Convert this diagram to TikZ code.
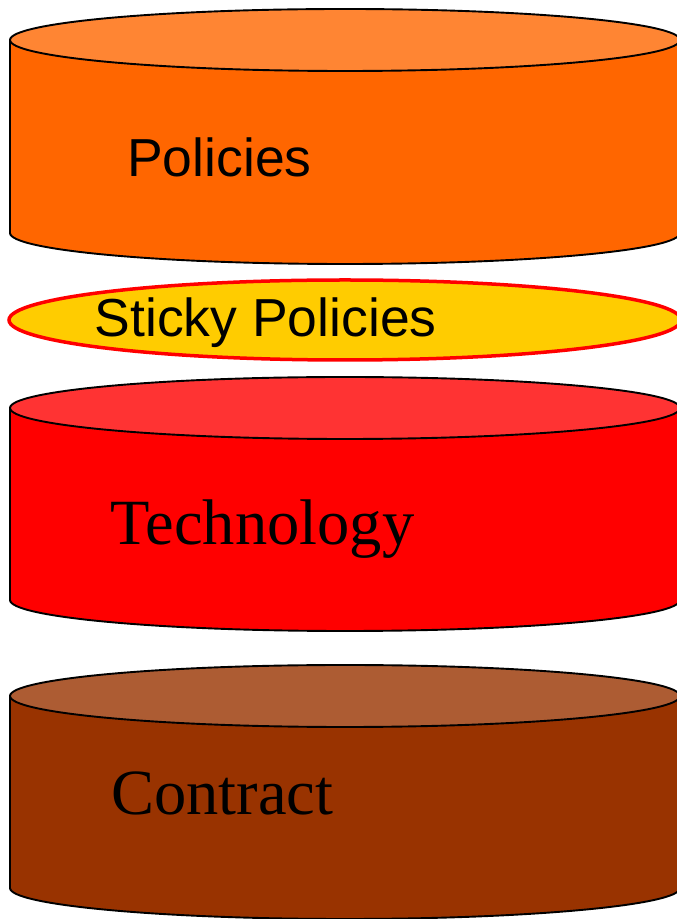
\documentclass[tikz,border=0pt]{standalone}
\usepackage{fontspec}
\setmainfont{Liberation Serif}
\setsansfont{Liberation Sans}
\definecolor{polside}{HTML}{FF6600}
\definecolor{poltop}{HTML}{FF8533}
\definecolor{stickyfill}{HTML}{FFCC00}
\definecolor{techside}{HTML}{FF0000}
\definecolor{techtop}{HTML}{FF3333}
\definecolor{conside}{HTML}{993300}
\definecolor{contop}{HTML}{AD5C33}
\tikzset{
  outline/.style={draw=black, line width=1.9pt},
  sanslabel/.style={font=\fontsize{53.5}{60}\selectfont\sffamily, inner sep=0pt, anchor=base west},
  seriflabel/.style={font=\fontsize{64.5}{72}\selectfont\rmfamily, inner sep=0pt, anchor=base west},
}
\newcommand{\mycyl}[4]{% top Y, bottom Y, side colour, top colour
  \fill[#3] (10,#1) -- (10,#2) arc[start angle=180, end angle=360, x radius=335pt, y radius=31pt] -- (680,#1) -- cycle;
  \draw[outline] (10,#1) -- (10,#2) arc[start angle=180, end angle=360, x radius=335pt, y radius=31pt] -- (680,#1);
  \draw[outline, fill=#4] (345,#1) ellipse[x radius=335pt, y radius=31pt];
}
\begin{document}
\begin{tikzpicture}[x=1pt, y=1pt]
  \useasboundingbox (0,0) rectangle (677,919);
  \clip (0,0) rectangle (677,919);
  \mycyl{879}{686}{polside}{poltop}
  \draw[draw=red, line width=3.5pt, fill=stickyfill] (345,599) ellipse[x radius=336pt, y radius=40pt];
  \mycyl{511}{319}{techside}{techtop}
  \mycyl{223}{31}{conside}{contop}
  \node[sanslabel] (policies) at (127,742) {Policies};
  \node[sanslabel] (sticky) at (94.5,582) {Sticky Policies};
  \node[seriflabel] (tech) at (110.5,374) {Technology};
  \node[seriflabel] (contract) at (111,104) {Contract};
\end{tikzpicture}
\end{document}
